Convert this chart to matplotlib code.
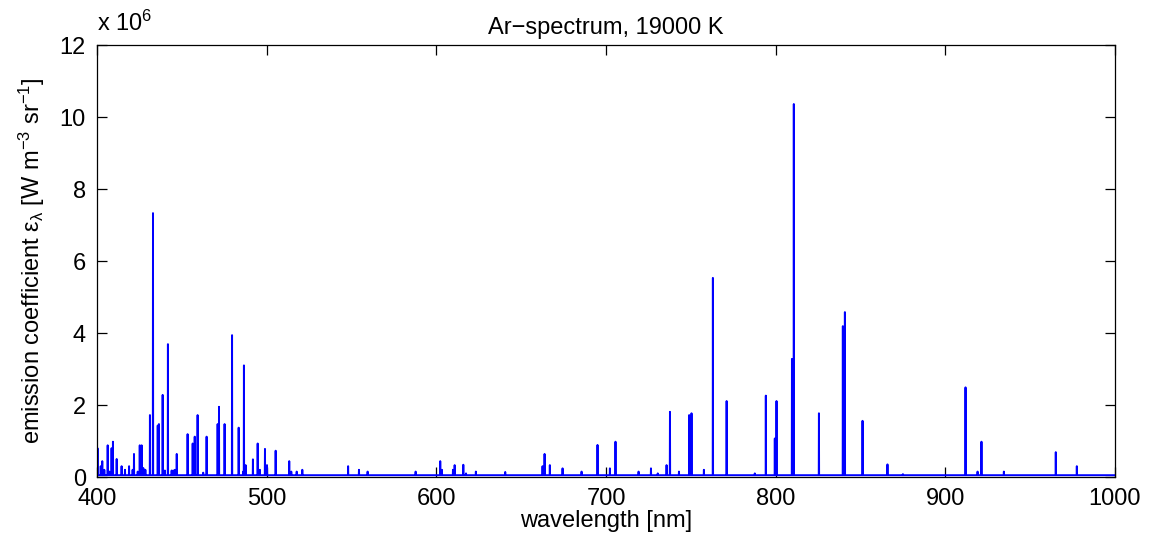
import numpy as np
import matplotlib
matplotlib.use("Agg")
import matplotlib.pyplot as plt

plt.rcParams['font.family'] = ['Liberation Sans', 'DejaVu Sans']
plt.rcParams['mathtext.fontset'] = 'custom'
plt.rcParams['mathtext.rm'] = 'Liberation Sans'
plt.rcParams['mathtext.it'] = 'Liberation Sans:italic'

# Emission lines: wavelength [nm] and peak [1e6 W m^-3 sr^-1]
line_nm = [400.3, 402.2, 403.1, 404.3, 406.3, 407.3, 408.6, 409.4, 411.6, 414.5,
           416.5, 418.9, 421.0, 421.8, 424.0, 425.2, 426.3, 427.3, 428.5, 431.2,
           433.0, 435.8, 436.5, 438.7, 440.0, 441.8, 444.0, 445.0, 446.0, 447.0,
           453.4, 456.4, 457.6, 459.3, 462.6, 464.6, 471.1, 471.9, 475.2, 479.6,
           483.5, 486.2, 486.6, 487.6, 491.9, 494.7, 496.0, 499.0, 500.2, 505.3,
           513.3, 514.5, 517.7, 521.0, 548.0, 554.4, 559.5, 587.8, 602.3, 603.3,
           609.8, 610.8, 615.9, 617.5, 623.3, 640.6, 662.6, 663.8, 666.9, 674.4,
           685.6, 695.0, 702.3, 705.6, 719.2, 726.5, 730.5, 735.7, 737.7, 743.0,
           749.0, 750.4, 757.7, 763.0, 771.1, 787.7, 794.2, 799.5, 800.5, 809.6,
           810.7, 825.5, 839.6, 840.8, 851.2, 865.9, 875.0, 911.9, 919.0, 921.3,
           934.5, 965.1, 977.5]
line_peak_e6 = [0.80, 0.30, 0.44, 0.20, 0.88, 0.15, 0.80, 0.98, 0.50, 0.30,
                0.20, 0.30, 0.20, 0.64, 0.15, 0.88, 0.88, 0.25, 0.20, 1.72,
                7.33, 1.43, 1.47, 2.28, 0.18, 3.69, 0.18, 0.18, 0.20, 0.64,
                1.19, 0.93, 1.12, 1.72, 0.12, 1.12, 1.47, 1.95, 1.47, 3.94,
                1.37, 0.15, 3.10, 0.33, 0.49, 0.93, 0.20, 0.78, 0.33, 0.73,
                0.44, 0.15, 0.15, 0.20, 0.30, 0.20, 0.15, 0.15, 0.44, 0.20,
                0.20, 0.33, 0.34, 0.10, 0.15, 0.14, 0.30, 0.64, 0.33, 0.24,
                0.15, 0.89, 0.24, 0.98, 0.15, 0.24, 0.10, 0.33, 1.81, 0.15,
                1.72, 1.77, 0.20, 5.53, 2.11, 0.10, 2.26, 1.07, 2.11, 3.28,
                10.36, 1.77, 4.19, 4.58, 1.56, 0.35, 0.08, 2.49, 0.15, 0.98,
                0.15, 0.69, 0.30]
continuum_e6 = 0.05

x_range = [400, 1000]
y_range = [0, 12]
x_ticks = [400, 500, 600, 700, 800, 900, 1000]
y_ticks = [0, 2, 4, 6, 8, 10, 12]

# sampled spectrum
wl = np.arange(x_range[0], x_range[1] + 0.05, 0.1)
eps = np.full_like(wl, continuum_e6)
for nm, pk in zip(line_nm, line_peak_e6):
    i = int(np.argmin(np.abs(wl - nm)))
    eps[i] = max(eps[i], pk)

fig = plt.figure(figsize=(11.52, 5.43), dpi=100)
ax = fig.add_axes([97 / 1152, 66 / 543, 1018 / 1152, 432 / 543])
ax.plot(wl, eps, color='#0000ff', lw=1.4)

ax.set_xlim(x_range)
ax.set_ylim(y_range)
ax.set_xticks(x_ticks)
ax.set_yticks(y_ticks)
fs = 17
ax.tick_params(direction='in', top=True, right=True, length=7, width=0.9,
               labelsize=fs)
ax.tick_params(axis='x', pad=8)
ax.tick_params(axis='y', pad=8)
for s in ax.spines.values():
    s.set_linewidth(0.9)

ax.set_title('Ar\u2212spectrum, 19000 K', fontsize=fs, pad=8)
ax.set_xlabel('wavelength [nm]', fontsize=fs, labelpad=0)
ax.set_ylabel('emission coefficient \u03b5$_{\\mathregular{\u03bb}}$ '
              '[W m$^{\\mathregular{\u22123}}$ sr$^{\\mathregular{\u22121}}$]',
              fontsize=fs, labelpad=9)
ax.text(0.0, 1.02, 'x 10$^{\\mathregular{6}}$', transform=ax.transAxes,
        fontsize=fs, ha='left', va='bottom')

fig.savefig('out.png', dpi=100)
